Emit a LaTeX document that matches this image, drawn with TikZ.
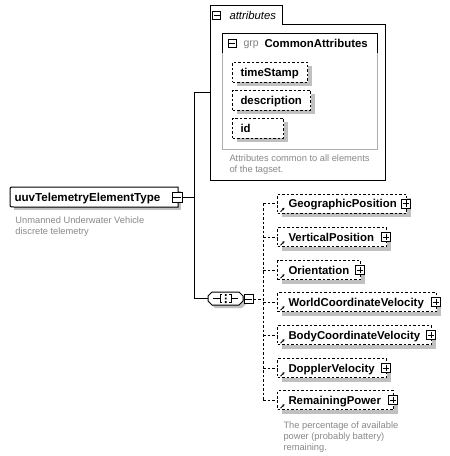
\documentclass[tikz,border=0pt]{standalone}
\usepackage{fontspec}
\setmainfont{Liberation Sans}
\usetikzlibrary{shadows,arrows.meta,calc}
\definecolor{shadowc}{RGB}{192,192,192}
\definecolor{descc}{RGB}{136,136,136}
\definecolor{grpc}{RGB}{128,128,128}
\tikzset{
  lbl/.style={font=\bfseries\fontsize{11.4}{13}\selectfont, inner sep=0pt, anchor=west, text height=8.2pt, text depth=0pt},
  desc/.style={font=\fontsize{9.3}{11}\selectfont, text=descc, inner sep=0pt, anchor=north west, align=left},
  elbox/.style={draw, dash pattern=on 2.5pt off 2pt, fill=white, inner sep=0pt, anchor=west, minimum height=19pt,
    drop shadow={shadow xshift=4pt, shadow yshift=-4pt, fill=shadowc, opacity=1}},
  pmbox/.style={draw, solid, fill=white, minimum size=9pt, inner sep=0pt},
  conn/.style={line width=1pt},
  dconn/.style={line width=1pt, dash pattern=on 2.5pt off 2pt},
}
\newcommand\pbox[3]{\node[pmbox, minimum size=#3] (#1) at (#2) {};
  \draw ([xshift=1.6pt]#1.west) -- ([xshift=-1.6pt]#1.east) ([yshift=-1.6pt]#1.north) -- ([yshift=1.6pt]#1.south);}
\newcommand\minbox[3]{\node[pmbox, minimum size=#3] (#1) at (#2) {};
  \draw ([xshift=1.6pt]#1.west) -- ([xshift=-1.6pt]#1.east);}
% child element: name, text, right x, center y
\newcommand\childel[4]{%
  \node[elbox, minimum width={#3-277}] (#1) at (277,#4) {};
  \draw[-{Stealth[length=2.4pt,width=2.6pt]}, line width=0.9pt] ($(#1.south west)+(3.5pt,1.8pt)$) -- ++(4pt,4pt);
  \node[lbl] (#1L) at (288,#4) {#2};
  \pbox{#1P}{#3,#4}{9pt}}
\begin{document}
\begin{tikzpicture}[x=1pt,y=-1pt,line width=1pt]
\useasboundingbox (0,0) rectangle (450,456);

% ---------- attributes box ----------
\draw[fill=white] (210,5) -- (282,5) -- (282,24) -- (385,24) -- (385,180) -- (210,180) -- cycle;
\minbox{attrM}{216.8,15}{8pt}
\node[font=\itshape\fontsize{11.3}{13}\selectfont, inner sep=0pt, anchor=west, text height=8pt, text depth=0pt] (attrT) at (229,15) {attributes};
\draw[draw=shadowc!90!black] (222,33) rectangle (377,149);
\draw (222,53) -- (222,33) -- (377,33) -- (377,53);
\minbox{grpM}{232,43}{8pt}
\node[font=\fontsize{10.5}{12}\selectfont, text=grpc, inner sep=0pt, anchor=west, text height=7.6pt, text depth=0pt] (grpT) at (243,43) {grp};
\node[lbl] (grpN) at (264,43) {CommonAttributes};

\node[elbox, minimum width=75pt, minimum height=20pt] (ts) at (232,72) {};
\node[lbl] (tsL) at (240,72) {timeStamp};
\node[elbox, minimum width=78pt, minimum height=20pt] (ds) at (232,100) {};
\node[lbl] (dsL) at (240,100) {description};
\node[elbox, minimum width=51pt, minimum height=20pt] (id) at (232,128) {};
\node[lbl] (idL) at (240,128) {id};
\node[desc] (attrD) at (229,154) {Attributes common to all elements\\of the tagset.};

% ---------- main element ----------
\node[fill=white, minimum width=167pt, minimum height=19pt, anchor=west, inner sep=0pt,
  drop shadow={shadow xshift=3pt, shadow yshift=-3pt, fill=shadowc, opacity=1}] (main) at (10,197) {};
\draw (main.north east) -- ([xshift=4pt]main.north west) .. controls (main.north west) .. ([yshift=-4pt]main.north west)
  -- ([yshift=4pt]main.south west) .. controls (main.south west) .. ([xshift=4pt]main.south west) -- (main.south east) -- cycle;
\node[lbl, font=\bfseries\fontsize{11.6}{13}\selectfont] (mainL) at (14,197) {uuvTelemetryElementType};
\minbox{mainM}{177,197}{10pt}
\node[desc] (mainD) at (15,216.5) {Unmanned Underwater Vehicle\\discrete telemetry};

% ---------- sequence ----------
\node[minimum width=35pt, minimum height=13pt, inner sep=0pt] (seq) at (225.5,298.5) {};
\fill[shadowc] (215,295) -- (242,295) -- (246,299) -- (246,304) -- (242,308) -- (215,308) -- (211,304) -- (211,299) -- cycle;
\draw[fill=white] (212,292) -- (239,292) -- (243,296) -- (243,301) -- (239,305) -- (212,305) -- (208,301) -- (208,296) -- cycle;
\draw[line width=0.9pt] (213,298.5) -- (221,298.5);
\draw[line width=0.9pt] (222,294.5) -- (220,294.5) -- (220,302.5) -- (222,302.5);
\fill (224.8,294) rectangle (226.6,295.8) (224.8,297.6) rectangle (226.6,299.4) (224.8,301.2) rectangle (226.6,303);
\draw[line width=0.9pt] (229,294.5) -- (231,294.5) -- (231,302.5) -- (229,302.5);
\draw[line width=0.9pt] (231,298.5) -- (238,298.5);
\minbox{seqM}{248.5,299}{9pt}

% ---------- children ----------
\childel{geo}{GeographicPosition}{406}{203.5}
\childel{vert}{VerticalPosition}{386}{237}
\childel{ori}{Orientation}{360}{270}
\childel{world}{WorldCoordinateVelocity}{436}{302}
\childel{body}{BodyCoordinateVelocity}{431}{335}
\childel{dop}{DopplerVelocity}{386}{368}
\childel{rem}{RemainingPower}{393}{400}
\node[desc] (remD) at (283,421) {The percentage of available\\power (probably battery)\\remaining.};

% ---------- connectors ----------
\coordinate (jA) at (194,92);
\coordinate (jB) at (194,298.5);
\coordinate (attrIn) at (210,92);
\coordinate (dv) at (263,300);
\draw[conn] (mainM.east) -- (mainM.east -| jA);
\draw[conn] (attrIn) -- (jA) -- (jB) -- (seq.west);
\draw[dconn] (seqM.east) -- (seqM.east -| dv);
\draw[dconn] (geo.west -| dv) -- (rem.west -| dv);
\foreach \c in {geo,vert,ori,world,body,dop,rem}{
  \draw[dconn] (\c.west -| dv) -- (\c.west);
}
\end{tikzpicture}
\end{document}
